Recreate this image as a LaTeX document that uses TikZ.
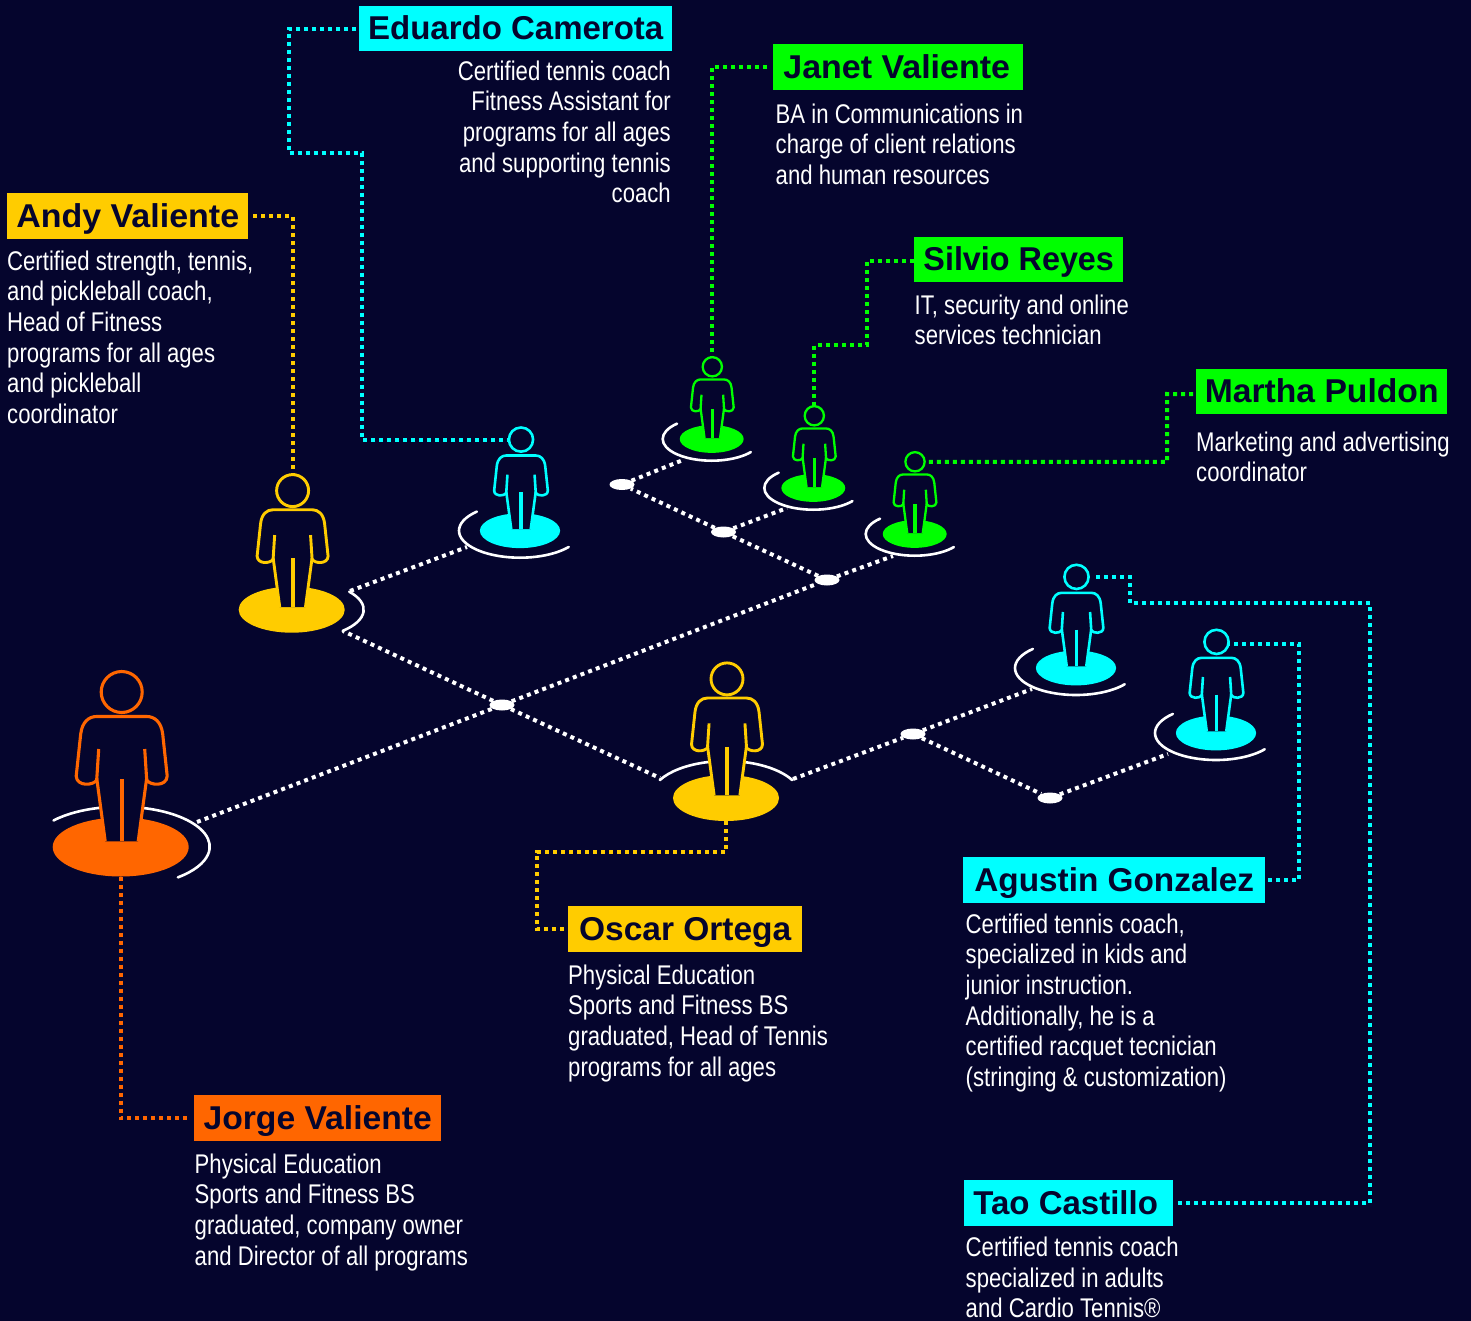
\documentclass[tikz,border=0pt]{standalone}
\usepackage{fontspec}
\setmainfont{Liberation Sans}
\newfontfamily\headfont{Liberation Sans}
\newfontfamily\bodyfont[FakeStretch=0.82]{Liberation Sans}
\usetikzlibrary{shapes.geometric,calc}
\definecolor{bgnavy}{HTML}{05052D}
\definecolor{cyanc}{HTML}{00FFFF}
\definecolor{greenc}{HTML}{00FF00}
\definecolor{yellowc}{HTML}{FFCC00}
\definecolor{orangec}{HTML}{FF6600}
\tikzset{
  ringline/.style={draw=white,line width=2.6pt,line cap=round},
  whitelink/.style={draw=white,line width=4pt,dash pattern=on 4pt off 4.2pt},
  colorlink/.style={draw=#1,line width=4pt,dash pattern=on 4pt off 4pt},
  junction/.style={ellipse,fill=white,inner sep=0pt,minimum width=25pt,minimum height=11pt},
  namebox/.style={fill=#1,text=bgnavy,anchor=north west,inner sep=0pt,align=center,
    text height=26pt,text depth=4pt,font=\headfont\bfseries\fontsize{33}{36}\selectfont},
  bodytext/.style={text=white,inner sep=0pt,
    font=\bodyfont\fontsize{27}{30.6}\selectfont,execute at begin node={\strut}},
}
% ring centre (cx,cy), radii rx, ry, angles t0, t1
\newcommand{\ringarc}[6]{\draw[ringline] (#1,#2) ++(#5:#3 and #4) arc[start angle=#5,end angle=#6,x radius=#3,y radius=#4];}
% person: name, body x, ellipse x, ellipse y, scale, colour, line width
\newcommand{\person}[7]{%
  \pgfmathsetlengthmacro{\bw}{136pt*#5}\pgfmathsetlengthmacro{\bh}{59pt*#5}\pgfmathsetlengthmacro{\hd}{41pt*#5}%
  \pgfmathsetmacro{\by}{#4+ifthenelse(#5<1,1.8,0)}%
  \pgfmathsetmacro{\hy}{ifthenelse(#5<0.7,-157.5,-155)}%
  \node[ellipse,fill=#6,inner sep=0pt,minimum width=\bw,minimum height=\bh] (#1Base) at (#3,#4) {};
  \begin{scope}[shift={(#2,\by)},scale=#5]
    \fill[bgnavy] (-25,-67) .. controls (-28,-61.5) and (-45,-60) .. (-45.5,-71) -- (-41,-113)
      .. controls (-39.5,-125) and (-33,-130.5) .. (-25,-130.5) -- (25,-130.5)
      .. controls (33,-130.5) and (39.5,-125) .. (41,-113) -- (45.5,-71)
      .. controls (45,-60) and (28,-61.5) .. (25,-67) -- (16.5,-5.7) -- (-16.5,-5.7) -- cycle;
    \draw[#6,line width=#7,line join=round] (-23,-98) -- (-25,-67)
      .. controls (-28,-61.5) and (-45,-60) .. (-45.5,-71) -- (-41,-113)
      .. controls (-39.5,-125) and (-33,-130.5) .. (-25,-130.5) -- (25,-130.5)
      .. controls (33,-130.5) and (39.5,-125) .. (41,-113) -- (45.5,-71)
      .. controls (45,-60) and (28,-61.5) .. (25,-67) -- (23,-98);
    \draw[#6,line width=#7] (-25,-69) -- (-16.5,-5.7);
    \draw[#6,line width=#7] (25,-69) -- (16.5,-5.7);
    \draw[#6,line width=#7*1.4] (0,-68) -- (0,-5.7);
    \coordinate (#1HeadC) at (0,\hy);
  \end{scope}
  \node[circle,draw=#6,line width=#7,inner sep=0pt,outer sep=0pt,minimum size=\hd] (#1Head) at (#1HeadC) {};
}
\begin{document}
\begin{tikzpicture}[x=1pt,y=1pt,yscale=-1]
\useasboundingbox (0,0) rectangle (1471,1321);
\fill[bgnavy] (0,0) rectangle (1471,1321);

% rings
\ringarc{120.7}{846.7}{89}{40}{221}{410}
\ringarc{291.7}{609.7}{72}{30}{-37}{45}
\ringarc{520}{530.7}{61}{27}{225}{37}
\ringarc{711.7}{439}{49}{21.7}{225}{37}
\ringarc{813.3}{488}{49}{21.7}{225}{37}
\ringarc{914.7}{534}{49}{21.7}{225}{37}
\ringarc{726}{797}{75}{36}{208}{332}
\ringarc{1076}{668}{61}{27}{225}{37}
\ringarc{1216}{733}{61}{27}{225}{37}

% people
\person{jorge}{121.7}{120.7}{847}{1}{orangec}{3.1pt}
\person{andy}{292.6}{291.7}{609.7}{0.78}{yellowc}{2.9pt}
\person{oscar}{727}{726}{798}{0.78}{yellowc}{2.9pt}
\person{eduardo}{521}{520}{530.7}{0.59}{cyanc}{2.6pt}
\person{tao}{1076.5}{1076}{668}{0.59}{cyanc}{2.6pt}
\person{agustin}{1216.5}{1216}{733}{0.59}{cyanc}{2.6pt}
\person{janet}{712.3}{711.7}{439}{0.47}{greenc}{2.3pt}
\person{silvio}{814.3}{813.3}{488}{0.47}{greenc}{2.3pt}
\person{martha}{915}{914.7}{534}{0.47}{greenc}{2.3pt}

% junctions
\node[junction] (j1) at (502,705) {};
\node[junction] (j2) at (622,484.5) {};
\node[junction] (j3) at (723.5,532) {};
\node[junction] (j4) at (827,580) {};
\node[junction] (j5) at (913,734) {};
\node[junction] (j6) at (1050,798) {};

% free ends of white links, on the rings
\coordinate (rJorge) at (197,822);
\coordinate (rAndyL) at (343,631);
\coordinate (rAndyU) at (350,591);
\coordinate (rEduardo) at (467,547);
\coordinate (rJanet) at (683,460);
\coordinate (rSilvio) at (787,508);
\coordinate (rMartha) at (893,556);
\coordinate (rOscarL) at (660,778);
\coordinate (rOscarR) at (793,779);
\coordinate (rTao) at (1032,689);
\coordinate (rAgustin) at (1168,754);

\draw[whitelink] (rJorge) -- (j1);
\draw[whitelink] (j1) -- (rAndyL);
\draw[whitelink] (rAndyU) -- (rEduardo);
\draw[whitelink] (j1) -- (j4);
\draw[whitelink] (j4) -- (rMartha);
\draw[whitelink] (j4) -- (j3);
\draw[whitelink] (j3) -- (j2);
\draw[whitelink] (j3) -- (rSilvio);
\draw[whitelink] (j2) -- (rJanet);
\draw[whitelink] (j1) -- (rOscarL);
\draw[whitelink] (rOscarR) -- (j5);
\draw[whitelink] (j5) -- (rTao);
\draw[whitelink] (j5) -- (j6);
\draw[whitelink] (j6) -- (rAgustin);

% name boxes
\node[namebox=cyanc,minimum width=313pt,minimum height=45pt] (eduardoName) at (359,6) {Eduardo Camerota};
\node[namebox=greenc,minimum width=250pt,minimum height=46pt] (janetName) at (773,44) {\scalebox{1.03}[1]{Janet Valiente}\kern3pt};
\node[namebox=greenc,minimum width=209pt,minimum height=45pt] (silvioName) at (914,237) {\scalebox{0.98}[1]{Silvio Reyes}};
\node[namebox=greenc,minimum width=251pt,minimum height=45pt] (marthaName) at (1196,369) {\scalebox{1.02}[1]{Martha Puldon}};
\node[namebox=yellowc,minimum width=241pt,minimum height=46pt] (andyName) at (7,193) {\scalebox{1.03}[1]{Andy Valiente}};
\node[namebox=yellowc,minimum width=234pt,minimum height=46pt] (oscarName) at (568,906) {\scalebox{1.015}[1]{Oscar Ortega}};
\node[namebox=orangec,minimum width=247pt,minimum height=46pt] (jorgeName) at (194,1095) {\scalebox{1.02}[1]{Jorge Valiente}};
\node[namebox=cyanc,minimum width=302pt,minimum height=46pt] (agustinName) at (963,857) {\scalebox{1.01}[1]{Agustin Gonzalez}};
\node[namebox=cyanc,minimum width=209pt,minimum height=46pt] (taoName) at (964,1180) {Tao Castillo\kern6pt};

% body texts (y = first baseline - 21.4)
\node[bodytext,anchor=north east,align=right] (eduardoText) at (671,60.5) {Certified tennis coach\\Fitness Assistant for\\programs for all ages\\and supporting tennis\\coach};
\node[bodytext,anchor=north west,align=left] (janetText) at (775.5,103.5) {BA in Communications in\\charge of client relations\\and human resources};
\node[bodytext,anchor=north west,align=left] (silvioText) at (914.5,294.5) {IT, security and online\\services technician};
\node[bodytext,anchor=north west,align=left] (marthaText) at (1196,431.5) {Marketing and advertising\\coordinator};
\node[bodytext,anchor=north west,align=left] (andyText) at (7,250.5) {Certified strength, tennis,\\and pickleball coach,\\Head of Fitness\\programs for all ages\\and pickleball\\coordinator};
\node[bodytext,anchor=north west,align=left] (oscarText) at (568,964.5) {Physical Education\\Sports and Fitness BS\\graduated, Head of Tennis\\programs for all ages};
\node[bodytext,anchor=north west,align=left] (jorgeText) at (194.5,1153.5) {Physical Education\\Sports and Fitness BS\\graduated, company owner\\and Director of all programs};
\node[bodytext,anchor=north west,align=left] (agustinText) at (965.5,913.5) {Certified tennis coach,\\specialized in kids and\\junior instruction.\\Additionally, he is a\\certified racquet tecnician\\(stringing \& customization)};
\node[bodytext,anchor=north west,align=left] (taoText) at (965.5,1237) {Certified tennis coach\\specialized in adults\\and Cardio Tennis®};

% coloured leaders
\coordinate (b2) at (289,153);
\coordinate (b3) at (362,153);
\draw[colorlink=cyanc,shorten <=3pt] (eduardoName.west) -| (b2) -- (b3) |- (eduardoHead.west);

\draw[colorlink=greenc,shorten <=6pt] (janetName.west) -| (janetHead.north);

\coordinate (d2) at (867,345);
\draw[colorlink=greenc] ([yshift=1.5pt]silvioName.west) -| (d2) -| (silvioHead.north);

\coordinate (e1) at (1167,394);
\draw[colorlink=greenc,shorten <=3pt] ([yshift=2.5pt]marthaName.west) -- (e1) |- (marthaHead.east);

\draw[colorlink=yellowc,shorten <=5pt] (andyName.east) -| (andyHead.north);

\coordinate (g2) at (537,852);
\draw[colorlink=yellowc] (oscarBase.south) |- (g2) |- (oscarName.west);

\draw[colorlink=orangec,shorten >=5pt] (jorgeBase.south) |- (jorgeName.west);

\coordinate (i2) at (1299,644);
\draw[colorlink=cyanc,shorten <=3pt] (agustinName.east) -| (i2) -- (agustinHead.east |- i2);

\coordinate (k2) at (1370,603);
\coordinate (k3) at (1130,603);
\draw[colorlink=cyanc,shorten <=5pt,shorten >=6pt] (taoName.east) -| (k2) -- (k3) |- (taoHead.east);
\end{tikzpicture}
\end{document}
